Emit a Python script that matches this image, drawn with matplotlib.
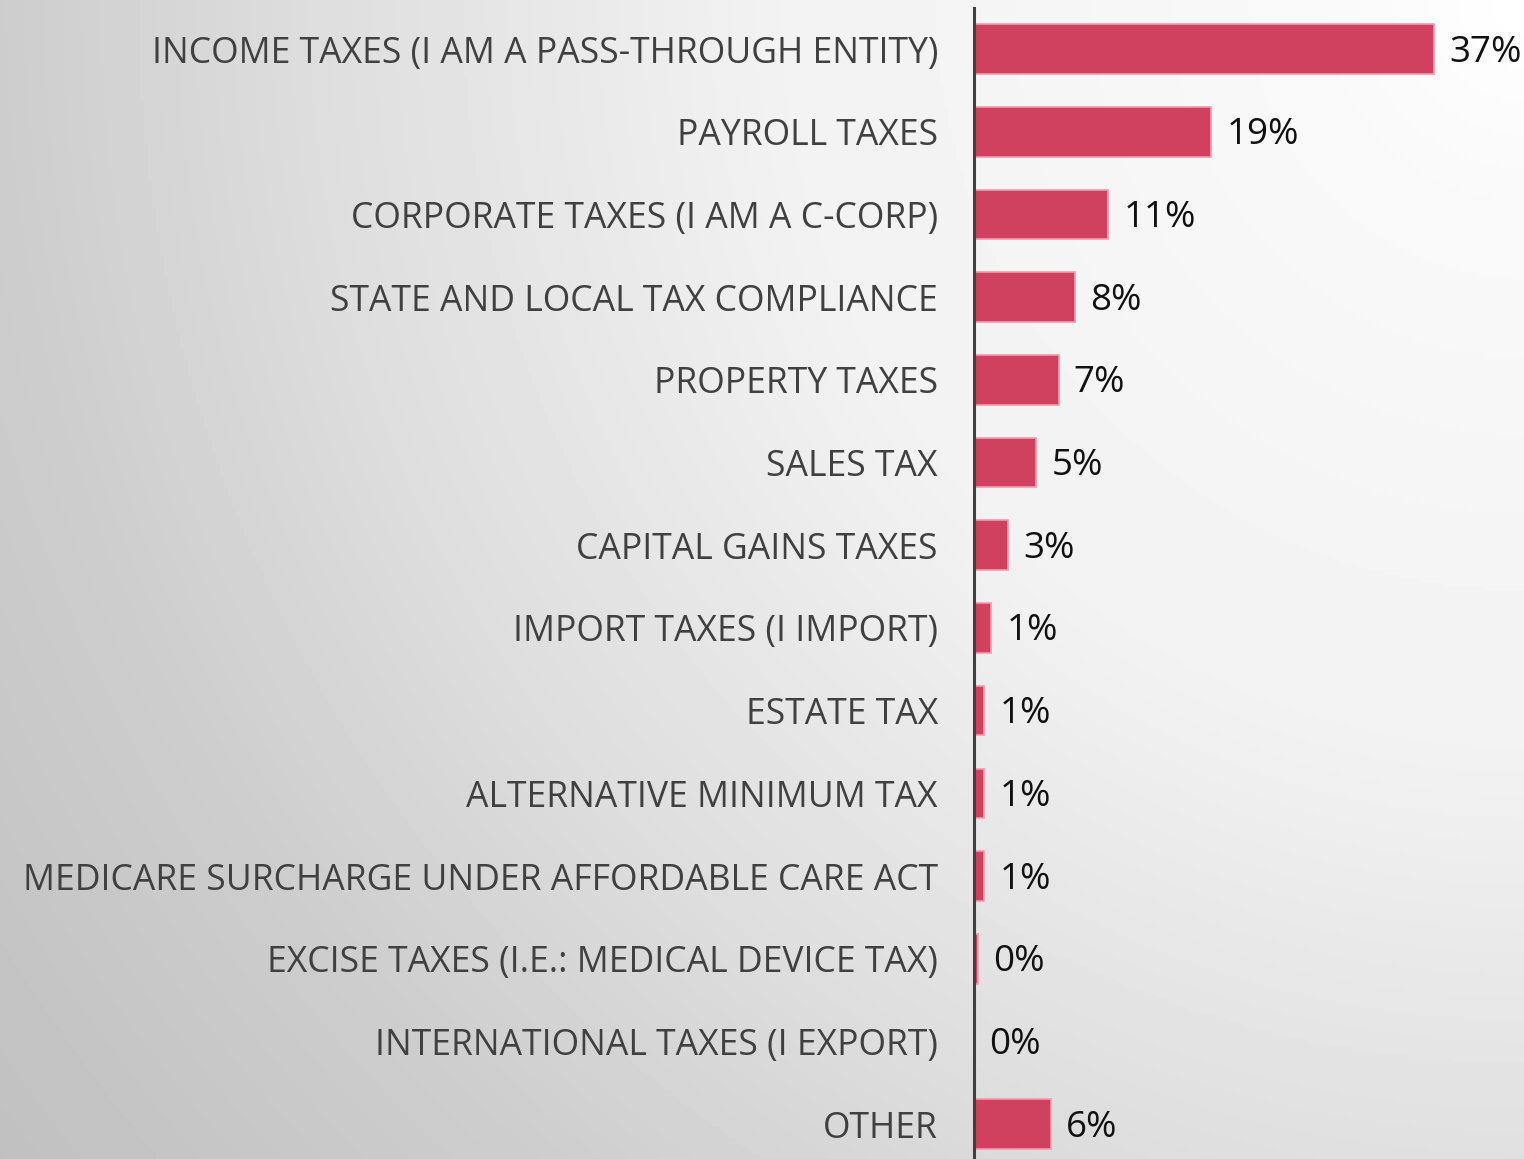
import numpy as np
import matplotlib.pyplot as plt

# данные с картинки (сверху вниз)
categories = [
    'INCOME TAXES (I AM A PASS-THROUGH ENTITY)',
    'PAYROLL TAXES',
    'CORPORATE TAXES (I AM A C-CORP)',
    'STATE AND LOCAL TAX COMPLIANCE',
    'PROPERTY TAXES',
    'SALES TAX',
    'CAPITAL GAINS TAXES',
    'IMPORT TAXES (I IMPORT)',
    'ESTATE TAX',
    'ALTERNATIVE MINIMUM TAX',
    'MEDICARE SURCHARGE UNDER AFFORDABLE CARE ACT',
    'EXCISE TAXES (I.E.: MEDICAL DEVICE TAX)',
    'INTERNATIONAL TAXES (I EXPORT)',
    'OTHER',
]
values = [37.0, 19.1, 10.8, 8.1, 6.8, 5.0, 2.7, 1.4, 0.8, 0.8, 0.8, 0.3, 0.0, 6.2]
value_labels = ['37%', '19%', '11%', '8%', '7%', '5%', '3%', '1%', '1%', '1%', '1%',
                '0%', '0%', '6%']

W, H = 1524, 1159
fig = plt.figure(figsize=(W / 100, H / 100), dpi=100)

# фон: радиальный градиент от правого верхнего угла
bg = fig.add_axes([0, 0, 1, 1])
yy, xx = np.mgrid[0:H:4, 0:W:4]
d = np.hypot(xx - W, yy)
shade = np.interp(d, [0, 200, 750, 1200, 1524, 1920], [255, 249, 242, 222, 205, 192]) / 255
bg.imshow(shade, cmap='gray', vmin=0, vmax=1, aspect='auto', extent=[0, 1, 0, 1])
bg.axis('off')

# основной график
px = 12.43  # пикселей на 1%
xmax = 44
left = 974 / W
top = 1 - 7.7 / H
n = len(categories)
height_px = n * 82.7
ax = fig.add_axes([left, top - height_px / H, xmax * px / W, height_px / H])
ax.patch.set_alpha(0)

y = np.arange(n)
ax.barh(y, values, height=0.6, color='#D0415F', edgecolor='#F39AAE', linewidth=1.2, zorder=2)
ax.set_ylim(n - 0.5, -0.5)
ax.set_xlim(0, xmax)

font = ['Open Sans', 'DejaVu Sans']
for i, (v, lab) in enumerate(zip(values, value_labels)):
    ax.annotate(lab, (v, i), xytext=(11, -2.5), textcoords='offset points',
                va='center', ha='left', fontsize=26.5, color='#111111',
                family=font, annotation_clip=False)

ax.set_yticks(y)
ax.set_yticklabels(categories, fontsize=25.6, color='#404040', family=font)
ax.tick_params(axis='y', length=0, pad=26)
ax.set_xticks([])
for s in ['top', 'right', 'bottom']:
    ax.spines[s].set_visible(False)
ax.spines['left'].set_color('#404040')
ax.spines['left'].set_linewidth(2.2)
ax.spines['left'].set_zorder(3)

plt.savefig('out.png', dpi=100)
